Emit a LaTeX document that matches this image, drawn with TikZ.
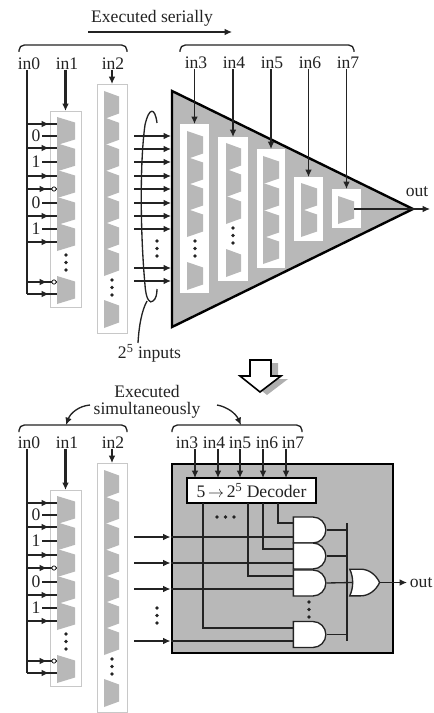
\documentclass[tikz,border=0pt]{standalone}
\usepackage{fontspec}
\setmainfont{Liberation Serif}
\usetikzlibrary{arrows.meta, positioning, decorations.markings, shapes.gates.logic.US}
\definecolor{inkdark}{RGB}{35, 35, 35}
\definecolor{muxgray}{RGB}{184, 184, 184}
\definecolor{panelgray}{RGB}{200, 200, 200}
\definecolor{shadegray}{RGB}{175, 175, 175}
\tikzset{
  lbl/.style={font=\fontsize{13.2}{13}\selectfont, text=inkdark, inner sep=0pt, align=center},
  wire/.style={draw=inkdark, line width=1pt},
  rail/.style={draw=inkdark, line width=1.2pt},
  arr/.style={wire, -{Latex[length=5.5pt,width=5pt]}},
  thickarr/.style={arr, line width=1.6pt},
  midtip/.style={postaction={decorate, decoration={markings,
    mark=at position #1 with {\arrow{Latex[length=5.5pt,width=5pt]}}}}},
  panel/.style 2 args={minimum width=#1*0.75pt, minimum height=#2*0.75pt, inner sep=0pt, outer sep=0pt},
  lightpanel/.style 2 args={panel={#1}{#2}, draw=panelgray, fill=white, line width=0.7pt},
  whitepanel/.style 2 args={panel={#1}{#2}, fill=white},
  andbox/.style={and gate US, logic gate inputs=nn, draw=inkdark, fill=white, line width=1pt,
    minimum width=23pt, minimum height=19.5pt, inner sep=0pt},
  orbox/.style={or gate US, logic gate inputs=nn, draw=inkdark, fill=white, line width=1pt,
    minimum width=21pt, minimum height=20pt, inner sep=0pt, xscale=0.82, transform shape},
  bubble/.style={circle, draw=inkdark, fill=white, line width=0.6pt, inner sep=0pt, minimum size=3.2pt}
}
\newcommand{\mux}[3]{\fill[muxgray] (#1,#2) -- ++(#3,5.5) -- ++(0,17) -- ++(-#3,5.5) -- cycle;}
\newcommand{\dotstack}[2]{\foreach \d in {0,7.5,15}{\fill[inkdark] (#1,#2+\d) circle (1.8);}}
\newcommand{\bracket}[3]{\draw[wire, rounded corners=4pt] (#1,#3+7) -- (#1,#3) -- (#2,#3) -- (#2,#3+7);}

\begin{document}
\begin{tikzpicture}[x=0.75pt, y=-0.75pt]
  \useasboundingbox (0,0) rectangle (433,713);

  % left part, drawn twice
  \foreach \nm/\dy in {t/0, b/379}{
    \begin{scope}[shift={(0,\dy)}]
      \node[lbl] (in0\nm) at (29,63.5) {in0};
      \node[lbl] (in1\nm) at (67,63.5) {in1};
      \node[lbl] (in2\nm) at (113,63.5) {in2};
      \node[lightpanel={31}{196}] (p1\nm) at (65.5,209) {};
      \node[lightpanel={30}{249}] (p2\nm) at (112,208.5) {};
      \foreach \y in {117,143.3,170,197,223,276}{\mux{57}{\y}{18}}
      \foreach \y in {91,117.3,143.6,170,196,222,248,300}{\mux{104}{\y}{15}}
      \dotstack{66}{255}
      \dotstack{112}{280}
      \coordinate (rail\nm) at (27,70);
      \coordinate (railend\nm) at (27,294);
      \draw[rail] (rail\nm) -- (railend\nm);
      \draw[thickarr] (in1\nm.south -| p1\nm.north) -- (p1\nm.north);
      \draw[arr] (in2\nm.south -| p2\nm.north) -- (p2\nm.north);
      \foreach \y in {124,148,176,216,242,294}{
        \coordinate (w) at (57,\y);
        \draw[wire, midtip=16.5pt] (rail\nm |- w) -- (w);
      }
      \foreach \y in {189,282}{
        \coordinate (w) at (57,\y);
        \draw[wire, midtip=15pt] (rail\nm |- w) -- (w);
        \node[bubble] at (54,\y) {};
      }
      \foreach \y/\bit in {136/0,162/1,203/0,229/1}{
        \coordinate (w) at (57,\y);
        \node[lbl] (bit) at (36,\y) {\bit};
        \draw[wire] (bit.east) ++(1.5,0) -- (w);
      }
    \end{scope}
  }

  % upper part
  \node[lbl] (serial) at (152,18) {Executed serially};
  \coordinate (sa) at (88,32);
  \coordinate (sb) at (232,32);
  \draw[arr] (sa) -- (sb);
  \bracket{19}{127}{45}
  \bracket{180}{354}{45}

  \coordinate (ta) at (172,91);
  \coordinate (tb) at (172,327);
  \coordinate (tip) at (413,209);
  \draw[fill=muxgray, draw=black, line width=1.8pt, line join=miter] (ta) -- (tb) -- (tip) -- cycle;

  \node[whitepanel={29}{169}] (p3) at (194.5,208.5) {};
  \node[whitepanel={30}{144}] (p4) at (233,209) {};
  \node[whitepanel={28}{119}] (p5) at (271,208.5) {};
  \node[whitepanel={29}{64}] (p6) at (308.5,209) {};
  \node[whitepanel={29}{39}] (p7) at (346.5,208.5) {};
  \foreach \y in {131,157,183,209,262}{\mux{187}{\y}{16}}
  \foreach \y in {143,169,196,249}{\mux{226}{\y}{15}}
  \foreach \y in {156,183,210,236}{\mux{263}{\y}{16}}
  \foreach \y in {183,209}{\mux{301}{\y}{16}}
  \mux{338}{196}{16}
  \dotstack{195}{241}
  \dotstack{233}{228}

  \foreach \i/\x in {3/196,4/234,5/272,6/310,7/348}{
    \node[lbl] (in\i) at (\x,63) {in\i};
    \draw[arr] (in\i.south -| p\i.north) -- (p\i.north);
  }
  \coordinate (m7) at (354,209);
  \draw[wire] (m7) -- (tip);
  \coordinate (tipout) at (430,209);
  \draw[arr] (tip) -- (tipout);
  \node[lbl] (out1) at (417,192) {out};

  % inputs of the triangle
  \foreach \y in {136,149,162,176,189,203,216,229,268,281}{
    \coordinate (w) at (171,\y);
    \coordinate (v) at (134,\y);
    \draw[arr] (v) -- (w);
  }
  \dotstack{157}{241}
  \draw[wire] (157,123) .. controls (155,107) and (149,107) .. (145,125)
    .. controls (140,160) and (140,230) .. (145,285)
    .. controls (146,300) and (150,304) .. (153,301)
    .. controls (156,299) and (157,294) .. (157,289);
  \node[lbl] (inputs) at (149.5,353) {2\textsuperscript{5} inputs};
  \coordinate (lead) at (147,301);
  \coordinate (leadend) at (138,343);
  \draw[wire] (lead) .. controls (142,310) and (139,325) .. (leadend);

  % hollow arrow
  \fill[shadegray, shift={(7,3)}] (250,360) -- (271,360) -- (271,376) -- (281,376) -- (260,392) -- (240,376) -- (250,376) -- cycle;
  \draw[fill=white, draw=black, line width=1.2pt] (250,360) -- (271,360) -- (271,376) -- (281,376) -- (260,392) -- (240,376) -- (250,376) -- cycle;

  % lower part
  \node[lbl] (simul) at (147,402) {Executed\\simultaneously};
  \coordinate (ca) at (90,405);
  \coordinate (cb) at (66,425);
  \coordinate (cc) at (217,405);
  \coordinate (cd) at (241,425);
  \draw[arr] (ca) .. controls (78,406) and (70,414) .. (cb);
  \draw[arr] (cc) .. controls (228,407) and (236,414) .. (cd);
  \bracket{19}{127}{425}
  \bracket{172}{302}{425}

  \node[panel={221}{189}, draw=black, fill=muxgray, line width=1.3pt] (gbox) at (282.5,558.5) {};
  \node[panel={129}{25}, draw=black, fill=white, line width=1pt, lbl] (dec) at (251.5,490.5)
    {5$\,\rightarrow\,$2\textsuperscript{5} Decoder};
  \foreach \i/\x/\xa in {3/187/195,4/214/218,5/240/240,6/267/263,7/293/286}{
    \node[lbl] (low\i) at (\x,443) {in\i};
    \coordinate (w) at (\xa,478);
    \draw[arr] (low\i.south -| w) -- (w);
  }
  \foreach \x in {217,225.5,234}{\fill[inkdark] (\x,517) circle (1.8);}

  \node[andbox] (and1) at (308.5,530) {};
  \node[andbox] (and2) at (308.5,556) {};
  \node[andbox] (and3) at (308.5,583) {};
  \node[andbox] (and4) at (308.5,634.5) {};
  \node[orbox] (or1) at (362.5,582.5) {};
  \dotstack{309}{602}

  \foreach \x/\yy in {278/523,263/549,248/576,203/628}{
    \coordinate (w) at (\x,503);
    \coordinate (e) at (294,\yy);
    \draw[wire] (w) |- (e);
  }
  \foreach \yy in {537,563,589,641}{
    \coordinate (v) at (134,\yy);
    \coordinate (g) at (170.5,\yy);
    \coordinate (e) at (294,\yy);
    \draw[wire] (g) -- (e);
    \draw[arr] (v) -- (g);
  }
  \dotstack{157}{608}

  \coordinate (bartop) at (347,523);
  \coordinate (barbot) at (347,641);
  \draw[wire, line width=1pt] (bartop) -- (barbot);
  \foreach \gate in {and1,and2,and4}{
    \draw[wire] (\gate.output) -- (\gate.output -| bartop);
  }
  \draw[wire] (and3.output) -- (or1.west);
  \coordinate (outend) at (407,582.5);
  \draw[arr] (or1.output) -- (outend);
  \node[lbl, right=2pt of outend] (out2) {out};
\end{tikzpicture}
\end{document}
